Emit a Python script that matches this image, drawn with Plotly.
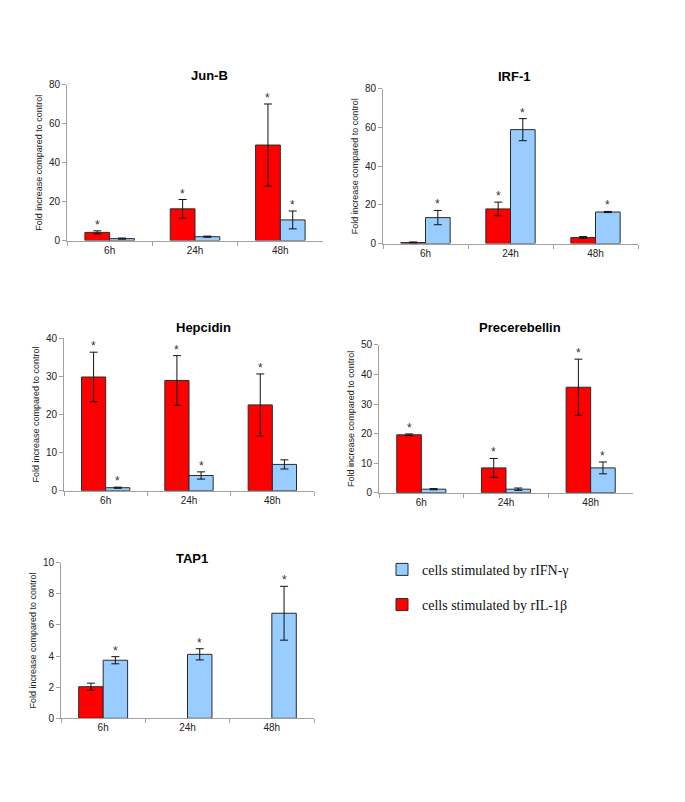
import plotly.graph_objects as go

W, H = 685, 802

timepoints = ["6h", "24h", "48h"]

# Jun-B
junb_il1b = [4.2, 16.3, 49.1]
junb_il1b_err = [0.8, 4.8, 21.1]
junb_ifng = [1.0, 2.0, 10.6]
junb_ifng_err = [0.3, 0.3, 4.6]
junb_star_il1b = [True, True, True]
junb_star_ifng = [False, False, True]

# IRF-1
irf1_il1b = [0.5, 17.9, 3.1]
irf1_il1b_err = [0.3, 3.5, 0.5]
irf1_ifng = [13.4, 58.9, 16.3]
irf1_ifng_err = [3.7, 5.7, 0.3]
irf1_star_il1b = [False, True, False]
irf1_star_ifng = [True, True, True]

# Hepcidin
hepc_il1b = [29.8, 28.9, 22.5]
hepc_il1b_err = [6.5, 6.5, 8.1]
hepc_ifng = [0.8, 4.0, 6.9]
hepc_ifng_err = [0.15, 0.95, 1.2]
hepc_star_il1b = [True, True, True]
hepc_star_ifng = [True, True, False]

# Precerebellin
prec_il1b = [19.6, 8.4, 35.7]
prec_il1b_err = [0.3, 3.2, 9.5]
prec_ifng = [1.2, 1.2, 8.4]
prec_ifng_err = [0.2, 0.4, 2.0]
prec_star_il1b = [True, True, True]
prec_star_ifng = [False, False, True]

# TAP1
tap1_il1b = [2.03, None, None]
tap1_il1b_err = [0.23, None, None]
tap1_ifng = [3.73, 4.11, 6.75]
tap1_ifng_err = [0.23, 0.36, 1.73]
tap1_star_il1b = [False, False, False]
tap1_star_ifng = [True, True, True]

RED = "#ff0000"
BLUE = "#99ccff"
EDGE = "#2a2a2a"
AXIS = "#a0a0a0"
SANS = "Liberation Sans, Arial, sans-serif"
SERIF = "Liberation Serif, Times New Roman, serif"
BARGAP = 0.42

panels = [
    dict(title="Jun-B", il1b=junb_il1b, il1b_err=junb_il1b_err, ifng=junb_ifng, ifng_err=junb_ifng_err,
         s1=junb_star_il1b, s2=junb_star_ifng, ymax=80, dtick=20, box=(59, 315, 72, 230), txy=(201, 62)),
    dict(title="IRF-1", il1b=irf1_il1b, il1b_err=irf1_il1b_err, ifng=irf1_ifng, ifng_err=irf1_ifng_err,
         s1=irf1_star_il1b, s2=irf1_star_ifng, ymax=80, dtick=20, box=(375, 630, 76, 233), txy=(506, 63)),
    dict(title="Hepcidin", il1b=hepc_il1b, il1b_err=hepc_il1b_err, ifng=hepc_ifng, ifng_err=hepc_ifng_err,
         s1=hepc_star_il1b, s2=hepc_star_ifng, ymax=40, dtick=10, box=(56, 306, 329, 484), txy=(195, 318)),
    dict(title="Precerebellin", il1b=prec_il1b, il1b_err=prec_il1b_err, ifng=prec_ifng, ifng_err=prec_ifng_err,
         s1=prec_star_il1b, s2=prec_star_ifng, ymax=50, dtick=10, box=(371, 625, 336, 486), txy=(512, 318)),
    dict(title="TAP1", il1b=tap1_il1b, il1b_err=tap1_il1b_err, ifng=tap1_ifng, ifng_err=tap1_ifng_err,
         s1=tap1_star_il1b, s2=tap1_star_ifng, ymax=10, dtick=2, box=(53, 306, 557, 715), txy=(184, 553)),
]

fig = go.Figure()
annotations = []
layout = {}

for i, p in enumerate(panels, start=1):
    xs = "" if i == 1 else str(i)
    xa, ya = "x" + xs, "y" + xs
    x0, x1, y0, y1 = p["box"]

    fig.add_trace(go.Bar(
        x=timepoints, y=p["il1b"], xaxis=xa, yaxis=ya,
        name="cells stimulated by rIL-1β", legendgroup="il1b", showlegend=(i == 1), legendrank=2,
        marker=dict(color=RED, line=dict(color=EDGE, width=1)),
        error_y=dict(type="data", array=p["il1b_err"], color="#111", thickness=1, width=4),
    ))
    fig.add_trace(go.Bar(
        x=timepoints, y=p["ifng"], xaxis=xa, yaxis=ya,
        name="cells stimulated by rIFN-γ", legendgroup="ifng", showlegend=(i == 1), legendrank=1,
        marker=dict(color=BLUE, line=dict(color=EDGE, width=1)),
        error_y=dict(type="data", array=p["ifng_err"], color="#111", thickness=1, width=4),
    ))

    layout["xaxis" + xs] = dict(
        domain=[x0 / W, x1 / W], anchor=ya, type="category",
        categoryorder="array", categoryarray=timepoints,
        showline=True, linecolor=AXIS, linewidth=1, showgrid=False, zeroline=False,
        ticks="outside", tickson="boundaries", ticklen=4, tickcolor=AXIS,
        tickfont=dict(family=SANS, size=10, color="#222"),
    )
    layout["yaxis" + xs] = dict(
        domain=[1 - y1 / H, 1 - y0 / H], anchor=xa,
        range=[0, p["ymax"]], dtick=p["dtick"],
        showline=True, linecolor=AXIS, linewidth=1, showgrid=False, zeroline=False,
        ticks="outside", ticklen=4, tickcolor=AXIS,
        tickfont=dict(family=SANS, size=10, color="#222"),
        title=dict(text="Fold increase compared to control", standoff=4,
                   font=dict(family=SANS, size=9, color="#222")),
    )

    annotations.append(dict(
        text="<b>" + p["title"] + "</b>", x=p["txy"][0] / W, y=1 - p["txy"][1] / H,
        xref="paper", yref="paper", showarrow=False, xanchor="center", yanchor="middle",
        font=dict(family=SANS, size=13, color="#000"),
    ))

    barw = (x1 - x0) / 3 * (1 - BARGAP) / 2
    for vals, errs, stars, shift in ((p["il1b"], p["il1b_err"], p["s1"], -barw / 2),
                                     (p["ifng"], p["ifng_err"], p["s2"], barw / 2)):
        for cat, v, e, s in zip(timepoints, vals, errs, stars):
            if s and v is not None:
                annotations.append(dict(
                    text="*", x=cat, y=v + (e or 0), xref=xa, yref=ya, showarrow=False,
                    xanchor="center", yanchor="bottom", xshift=shift, yshift=-3,
                    font=dict(family=SANS, size=12, color="#333"),
                ))

fig.update_layout(
    width=W, height=H, margin=dict(l=0, r=0, t=0, b=0),
    paper_bgcolor="white", plot_bgcolor="white",
    barmode="group", bargap=BARGAP, bargroupgap=0,
    annotations=annotations,
    legend=dict(x=374 / W, y=1 - 548 / H, xanchor="left", yanchor="top",
                font=dict(family=SERIF, size=14, color="#111"),
                tracegroupgap=14, bgcolor="rgba(0,0,0,0)"),
    **layout,
)

fig.write_html("out.html")
